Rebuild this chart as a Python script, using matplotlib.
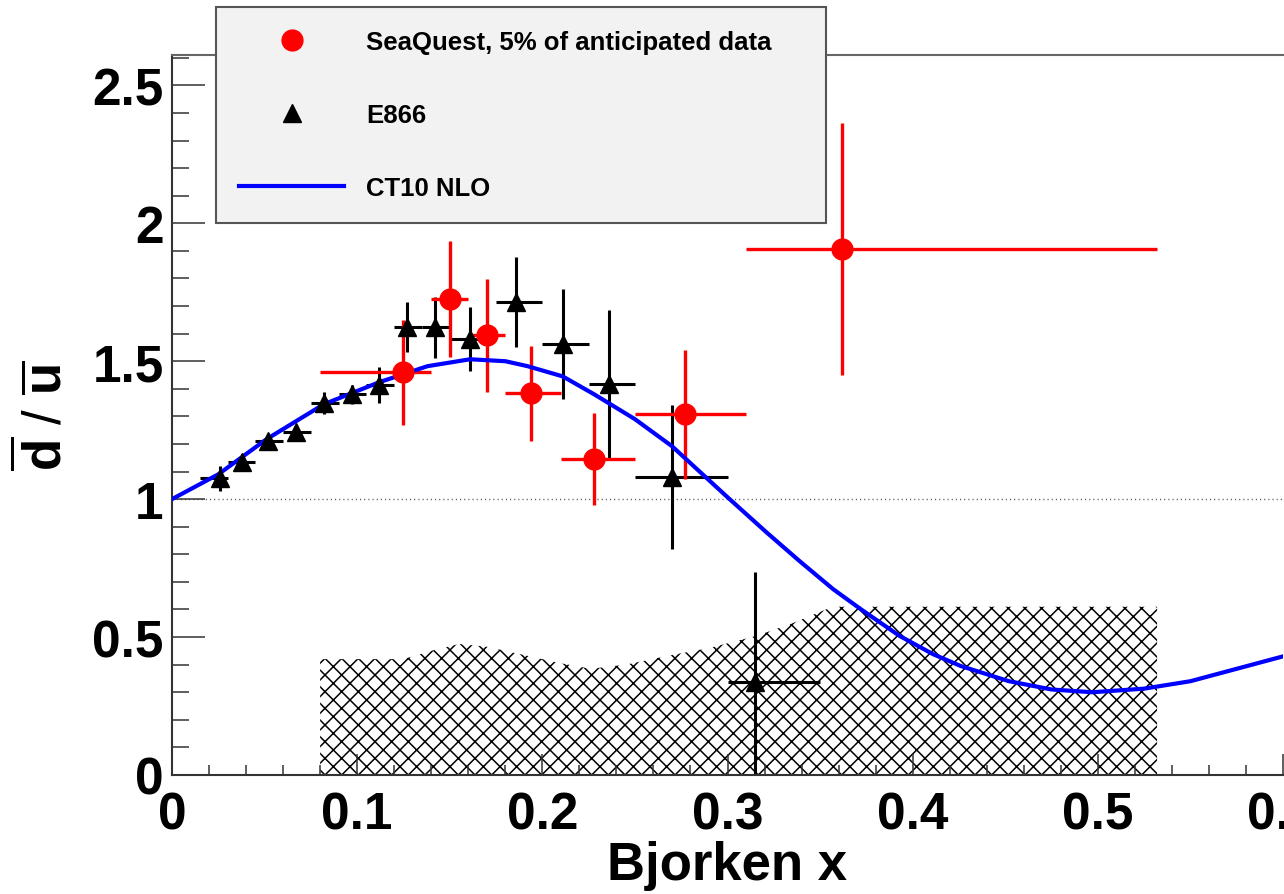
import numpy as np
import matplotlib
matplotlib.use('Agg')
import matplotlib.pyplot as plt
from matplotlib.ticker import MultipleLocator, FuncFormatter

plt.rcParams['font.family'] = ['Liberation Sans', 'DejaVu Sans']
plt.rcParams['font.weight'] = 'bold'
plt.rcParams['mathtext.fontset'] = 'custom'
plt.rcParams['mathtext.rm'] = 'Liberation Sans:bold'
plt.rcParams['mathtext.bf'] = 'Liberation Sans:bold'
plt.rcParams['mathtext.it'] = 'Liberation Sans:bold'
plt.rcParams['hatch.linewidth'] = 1.1

# E866 points (x, ratio, error, x bin edges)
e866_x = [0.026, 0.038, 0.052, 0.067, 0.082, 0.097, 0.112, 0.127, 0.142, 0.161, 0.186, 0.211, 0.236, 0.270, 0.315]
e866_y = [1.076, 1.134, 1.21, 1.243, 1.35, 1.38, 1.413, 1.623, 1.623, 1.58, 1.714, 1.562, 1.417, 1.08, 0.337]
e866_err = [0.045, 0.03, 0.025, 0.025, 0.04, 0.035, 0.065, 0.09, 0.11, 0.115, 0.163, 0.2, 0.268, 0.26, 0.40]
e866_xlo = [0.015, 0.030, 0.045, 0.060, 0.075, 0.090, 0.105, 0.120, 0.135, 0.150, 0.175, 0.200, 0.225, 0.250, 0.300]
e866_xhi = [0.030, 0.045, 0.060, 0.075, 0.090, 0.105, 0.120, 0.135, 0.150, 0.175, 0.200, 0.225, 0.250, 0.300, 0.350]

# SeaQuest points
sq_x = [0.125, 0.150, 0.170, 0.194, 0.228, 0.277, 0.362]
sq_y = [1.46, 1.725, 1.594, 1.384, 1.145, 1.308, 1.906]
sq_err = [0.19, 0.21, 0.205, 0.172, 0.168, 0.234, 0.456]
sq_xlo = [0.080, 0.140, 0.160, 0.180, 0.210, 0.250, 0.310]
sq_xhi = [0.140, 0.160, 0.180, 0.210, 0.250, 0.310, 0.532]

# CT10 NLO curve
ct_x = [0, 0.025, 0.051, 0.082, 0.112, 0.138, 0.161, 0.18, 0.192, 0.211, 0.228, 0.25, 0.27, 0.30,
        0.321, 0.339, 0.357, 0.372, 0.393, 0.411, 0.426, 0.452, 0.475, 0.497, 0.525, 0.55, 0.575, 0.6]
ct_y = [1.0, 1.09, 1.217, 1.344, 1.424, 1.482, 1.507, 1.50, 1.482, 1.445, 1.38, 1.29, 1.192, 1.007,
        0.88, 0.775, 0.674, 0.601, 0.504, 0.438, 0.395, 0.34, 0.31, 0.30, 0.313, 0.34, 0.385, 0.43]

# systematic band
band_x = [0.08, 0.125, 0.14, 0.155, 0.17, 0.19, 0.21, 0.226, 0.245, 0.27, 0.29, 0.316, 0.335, 0.355, 0.36, 0.532]
band_top = [0.42, 0.42, 0.45, 0.475, 0.465, 0.435, 0.405, 0.385, 0.40, 0.435, 0.46, 0.505, 0.55, 0.605, 0.61, 0.61]

e866_x = np.array(e866_x)
sq_x = np.array(sq_x)

fig = plt.figure(figsize=(12.84, 8.95), dpi=100)
ax = fig.add_axes([172 / 1284, 119 / 895, 1111 / 1284, 720 / 895])

ax.fill_between(band_x, 0, band_top, facecolor='none', edgecolor='black', hatch='xx', linewidth=0, zorder=1)
ax.axhline(1.0, color='#555555', linestyle=(0, (0.8, 2.2)), linewidth=1.0, zorder=1.5)

ax.errorbar(e866_x, e866_y, xerr=[e866_x - np.array(e866_xlo), np.array(e866_xhi) - e866_x],
            yerr=e866_err, fmt='none', ecolor='black', elinewidth=2.2, capsize=0, zorder=2)
ax.errorbar(sq_x, sq_y, xerr=[sq_x - np.array(sq_xlo), np.array(sq_xhi) - sq_x],
            yerr=sq_err, fmt='none', ecolor='#ff0000', elinewidth=2.4, capsize=0, zorder=3)
ct_line, = ax.plot(ct_x, ct_y, color='#0000ff', linewidth=3.0, zorder=4)
e866_pts, = ax.plot(e866_x, e866_y, '^', color='black', markersize=13, zorder=5)
sq_pts, = ax.plot(sq_x, sq_y, 'o', color='#ff0000', markersize=15, zorder=6)

ax.set_xlim(0, 0.6)
ax.set_ylim(0, 2.61)
ax.xaxis.set_major_locator(MultipleLocator(0.1))
ax.xaxis.set_minor_locator(MultipleLocator(0.02))
ax.yaxis.set_major_locator(MultipleLocator(0.5))
ax.yaxis.set_minor_locator(MultipleLocator(0.1))
fmt = FuncFormatter(lambda v, p: '%g' % round(v, 3))
ax.xaxis.set_major_formatter(fmt)
ax.yaxis.set_major_formatter(fmt)

ax.tick_params(axis='y', which='major', direction='in', length=24, width=1.1, pad=6, labelsize=37, color='#333333')
ax.tick_params(axis='y', which='minor', direction='in', length=12, width=1.1, color='#333333')
ax.tick_params(axis='x', which='major', direction='in', length=15, width=1.1, pad=11.5, labelsize=37, color='#333333')
ax.tick_params(axis='x', which='minor', direction='in', length=7, width=1.1, color='#333333')

ax.spines['right'].set_visible(False)
ax.spines['top'].set_color('#666666')
ax.spines['top'].set_linewidth(1.5)
for s in ['left', 'bottom']:
    ax.spines[s].set_color('#333333')
    ax.spines[s].set_linewidth(1.5)

ax.set_xlabel('Bjorken x', fontsize=38, fontweight='bold')
ax.xaxis.set_label_coords(0.5, -0.09)
ax.set_ylabel(r'$\overline{\mathrm{d}}$ / $\overline{\mathrm{u}}$', fontsize=38)
ax.yaxis.set_label_coords(-0.09, 0.5)

leg = fig.legend([sq_pts, e866_pts, ct_line],
                 ['SeaQuest, 5% of anticipated data', 'E866', 'CT10 NLO'],
                 loc='upper left', bbox_to_anchor=(216 / 1284, 1 - 230 / 895, 610 / 1284, 222 / 895),
                 mode='expand', borderaxespad=0, fontsize=18.5, numpoints=1,
                 borderpad=0.9, labelspacing=1.9, handlelength=4.1, handletextpad=0.85,
                 fancybox=False, framealpha=1)
leg.get_frame().set_facecolor('#f2f2f2')
leg.get_frame().set_edgecolor('#555555')
leg.get_frame().set_linewidth(1.5)
leg.set_zorder(10)

fig.savefig('out.png', dpi=100)
